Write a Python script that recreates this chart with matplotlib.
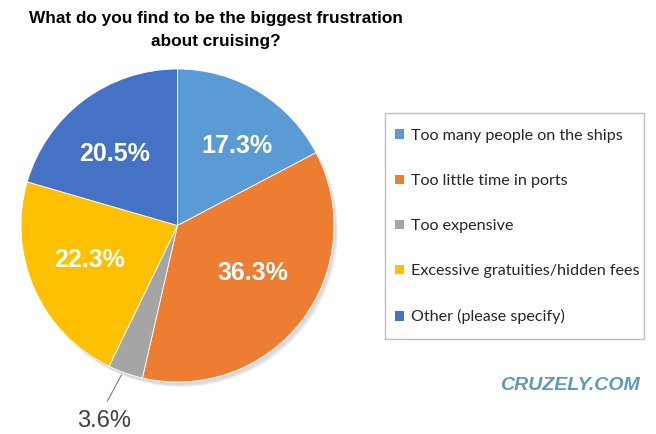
import matplotlib
matplotlib.use("Agg")
import matplotlib.pyplot as plt
from matplotlib.patches import Circle, Patch, Rectangle
import numpy as np

categories = ["Too many people on the ships", "Too little time in ports", "Too expensive",
              "Excessive gratuities/hidden fees", "Other (please specify)"]
values = [17.3, 36.3, 3.6, 22.3, 20.5]
colors = ["#5B9BD5", "#ED7D31", "#A5A5A5", "#FFC000", "#4472C4"]
title = "What do you find to be the biggest frustration\nabout cruising?"

W, H = 656, 434
fig = plt.figure(figsize=(W / 100, H / 100), dpi=100)
ax = fig.add_axes([0, 0, 1, 1])

cx, cy, r = 177.5, H - 225.5, 156.5

# soft shadow
for i, a in enumerate([0.05, 0.05, 0.05]):
    ax.add_patch(Circle((cx + 2 + i, cy - 3 - i), r, color="black", alpha=a, lw=0, zorder=0))

wedges, texts = ax.pie(values, colors=colors, startangle=90, counterclock=False,
                       center=(cx, cy), radius=r, frame=True,
                       wedgeprops=dict(edgecolor="white", linewidth=0.6))
ax.set_xlim(0, W)
ax.set_ylim(0, H)
ax.set_aspect("equal")
ax.axis("off")
for w in wedges:
    w.set_zorder(2)

# label placement (fraction of radius, angular nudge in degrees)
dists = [0.637, 0.573, None, 0.603, 0.61]
nudges = [-5.8, 5.3, 0, -2.3, 4.3]
for w, v, d, n in zip(wedges, values, dists, nudges):
    ang = np.deg2rad((w.theta1 + w.theta2) / 2 + n)
    if d is None:
        ex, ey = cx + r * np.cos(ang), cy + r * np.sin(ang)
        ax.plot([ex - 4, ex - 18], [ey - 2, ey - 28], color="#7f7f7f", lw=0.8, zorder=3)
        ax.text(ex - 21, ey - 48, f"{v:.1f}%", ha="center", va="center", fontsize=17,
                color="#404040", family="Liberation Sans", zorder=3)
    else:
        ax.text(cx + d * r * np.cos(ang), cy + d * r * np.sin(ang), f"{v:.1f}%",
                ha="center", va="center", fontsize=18, fontweight="bold",
                color="white", family="Liberation Sans", zorder=3)

fig.text(216 / W, 1 - 30 / H, title, ha="center", va="center", fontsize=12.4,
         fontweight="bold", family="Liberation Sans",
         linespacing=1.6, color="black")

# legend box
ax.add_patch(Rectangle((385, H - 339), 644 - 385, 339 - 113, facecolor="white",
                       edgecolor="#BFBFBF", lw=1.0, zorder=1))
handles = [Patch(facecolor=c, edgecolor="none") for c in colors]
leg = fig.legend(handles, categories, loc="upper left",
                 bbox_to_anchor=(395 / W, 1 - 129 / H), frameon=False,
                 prop=dict(family="Lato", size=11.6), labelspacing=1.93,
                 handlelength=0.55, handleheight=0.55, handletextpad=0.45,
                 borderpad=0, borderaxespad=0)
for t in leg.get_texts():
    t.set_color("#262626")

fig.text(570 / W, 1 - 386 / H, "CRUZELY.COM", ha="center", va="center", fontsize=14,
         fontweight="bold", style="italic", color="#5D9CB8",
         family="Liberation Sans")

fig.savefig("out.png", dpi=100)
